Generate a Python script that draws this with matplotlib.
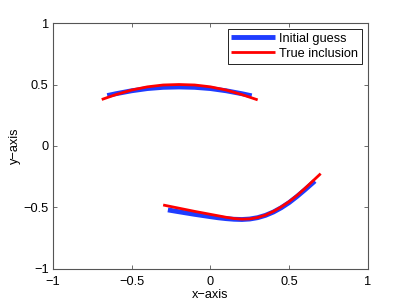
import matplotlib
matplotlib.use("Agg")
import matplotlib.pyplot as plt

# upper arc
guess_up_x = [-0.655, -0.6, -0.5, -0.4, -0.3, -0.2, -0.1, 0.0, 0.1, 0.2, 0.262]
guess_up_y = [0.41, 0.425, 0.449, 0.467, 0.477, 0.48, 0.477, 0.467, 0.449, 0.425, 0.408]
true_up_x = [-0.69, -0.6, -0.5, -0.4, -0.3, -0.2, -0.1, 0.0, 0.1, 0.2, 0.3]
true_up_y = [0.378, 0.418, 0.455, 0.481, 0.496, 0.5, 0.496, 0.481, 0.455, 0.418, 0.375]

# lower curve
guess_lo_x = [-0.27, -0.2, -0.1, 0.0, 0.05, 0.1, 0.15, 0.2, 0.25, 0.3, 0.35, 0.4, 0.45,
              0.5, 0.55, 0.6, 0.663]
guess_lo_y = [-0.52, -0.535, -0.556, -0.575, -0.584, -0.591, -0.596, -0.598, -0.594, -0.583,
              -0.564, -0.537, -0.502, -0.46, -0.41, -0.356, -0.285]
true_lo_x = [-0.3, -0.2, -0.1, 0.0, 0.05, 0.1, 0.15, 0.2, 0.25, 0.3, 0.35, 0.4, 0.45,
             0.5, 0.55, 0.6, 0.65, 0.7]
true_lo_y = [-0.48, -0.506, -0.532, -0.556, -0.568, -0.58, -0.59, -0.595, -0.593, -0.582,
             -0.562, -0.532, -0.495, -0.452, -0.402, -0.345, -0.285, -0.225]

ticks = [-1, -0.5, 0, 0.5, 1]
tick_labels = ["\u22121", "\u22120.5", "0", "0.5", "1"]

plt.rcParams['font.family'] = ['Liberation Sans', 'DejaVu Sans']
plt.rcParams['font.size'] = 9.2

fig = plt.figure(figsize=(4.07, 3.07), dpi=100)
ax = fig.add_axes([0.130, 0.124, 0.774, 0.801])

blue = '#1f3cff'
red = '#ff0000'
ax.plot(guess_up_x, guess_up_y, color=blue, lw=3.5, label='Initial guess', solid_capstyle='butt')
ax.plot(true_up_x, true_up_y, color=red, lw=2.0, label='True inclusion', solid_capstyle='butt')
ax.plot(guess_lo_x, guess_lo_y, color=blue, lw=3.5, solid_capstyle='butt')
ax.plot(true_lo_x, true_lo_y, color=red, lw=2.0, solid_capstyle='butt')

ax.set_xlim(-1, 1)
ax.set_ylim(-1, 1)
ax.set_xticks(ticks)
ax.set_xticklabels(tick_labels)
ax.set_yticks(ticks)
ax.set_yticklabels(tick_labels)
ax.tick_params(direction='in', length=3, width=0.6, top=True, right=True,
               colors='#555555', labelcolor='black', pad=3)
ax.tick_params(axis='x', pad=5)
for s in ax.spines.values():
    s.set_color('#555555')
    s.set_linewidth(0.8)

ax.set_xlabel('x\u2212axis', labelpad=1)
ax.set_ylabel('y\u2212axis', labelpad=2)

leg = ax.legend(loc='upper right', fancybox=False, framealpha=1, borderaxespad=0.45,
                handlelength=3.4, handletextpad=0.35, borderpad=0.3, labelspacing=0.25,
                fontsize=9.2)
leg.get_frame().set_edgecolor('black')
leg.get_frame().set_linewidth(0.6)

fig.savefig('out.png', dpi=100)
